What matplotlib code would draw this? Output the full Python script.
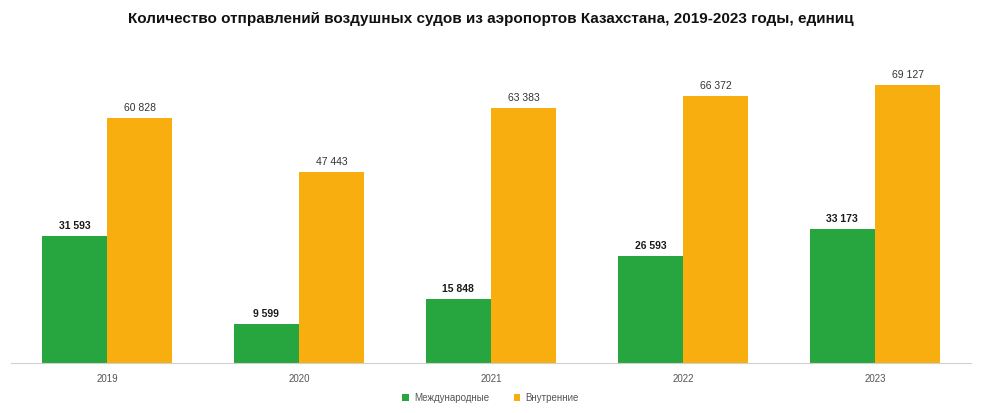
import matplotlib
matplotlib.use('Agg')
import matplotlib.pyplot as plt
import numpy as np

years = ['2019', '2020', '2021', '2022', '2023']
intl = [31593, 9599, 15848, 26593, 33173]
domestic = [60828, 47443, 63383, 66372, 69127]

green = '#27a640'
orange = '#f9ae0f'

def fmt(v):
	return '{:,}'.format(v).replace(',', ' ')

plt.rcParams['font.family'] = ['Liberation Sans', 'DejaVu Sans']

fig = plt.figure(figsize = (9.81, 4.13), dpi = 100)
ax = fig.add_axes([11 / 981, 50 / 413, 960 / 981, 318 / 413])

x = np.arange(len(years))
w = 0.34
b1 = ax.bar(x - w / 2, intl, w, color = green, label = 'Международные')
b2 = ax.bar(x + w / 2, domestic, w, color = orange, label = 'Внутренние')

for r, v in zip(b1, intl):
	ax.text(r.get_x() + r.get_width() / 2, v + 1300, fmt(v), ha = 'center', va = 'bottom',
		fontsize = 7.5, fontweight = 'bold', color = '#1a1a1a')
for r, v in zip(b2, domestic):
	ax.text(r.get_x() + r.get_width() / 2, v + 1300, fmt(v), ha = 'center', va = 'bottom',
		fontsize = 7.5, color = '#333333')

ax.set_xlim(-0.5, 4.5)
ax.set_ylim(0, 79000)
ax.set_xticks(x)
ax.set_xticklabels(years, fontsize = 7, color = '#555555')
ax.set_yticks([])
ax.tick_params(axis = 'x', length = 0, pad = 8)
for s in ['top', 'right', 'left']:
	ax.spines[s].set_visible(False)
ax.spines['bottom'].set_color('#d0d0d0')

fig.text(0.5, 1 - 19 / 413, 'Количество отправлений воздушных судов из аэропортов Казахстана, 2019-2023 годы, единиц',
	ha = 'center', va = 'center', fontsize = 11, fontweight = 'bold', color = '#111111')

fig.legend(loc = 'center', bbox_to_anchor = (0.5, 1 - 398 / 413), ncol = 2, frameon = False,
	fontsize = 7, handlelength = 0.7, handleheight = 0.7, columnspacing = 2.5, handletextpad = 0.5,
	labelcolor = '#555555')

plt.savefig('out.png', dpi = 100)
